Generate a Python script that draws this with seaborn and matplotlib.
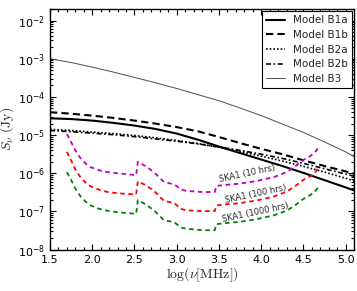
import numpy as np
import matplotlib
matplotlib.use("Agg")
import matplotlib.pyplot as plt
import seaborn as sns

# model curves, log10 of flux density (Jy) against log10(nu / MHz)
model_lognu = [1.5, 1.75, 2.0, 2.25, 2.5, 2.75, 3.0, 3.25, 3.5, 3.75, 4.0, 4.25, 4.5, 4.75, 5.0, 5.1]
b1a_logS = [-4.56, -4.58, -4.62, -4.68, -4.75, -4.84, -4.96, -5.12, -5.30, -5.47, -5.64, -5.81, -5.99, -6.18, -6.37, -6.45]
b1b_logS = [-4.40, -4.44, -4.49, -4.55, -4.62, -4.70, -4.79, -4.90, -5.05, -5.21, -5.36, -5.50, -5.66, -5.81, -5.95, -6.01]
b2a_logS = [-4.85, -4.88, -4.92, -4.96, -5.01, -5.07, -5.14, -5.22, -5.32, -5.43, -5.55, -5.68, -5.82, -5.97, -6.13, -6.20]
b2b_logS = [-4.88, -4.91, -4.95, -4.99, -5.04, -5.10, -5.16, -5.23, -5.31, -5.40, -5.50, -5.61, -5.74, -5.88, -6.02, -6.08]
b3_logS = [-3.00, -3.10, -3.22, -3.35, -3.49, -3.63, -3.78, -3.94, -4.10, -4.29, -4.49, -4.71, -4.93, -5.18, -5.44, -5.56]

# SKA1 sensitivity curves
ska_lognu = [1.70, 1.75, 1.80, 1.86, 1.92, 1.98, 2.08, 2.18, 2.30, 2.40, 2.52, 2.54, 2.63, 2.73, 2.85,
             2.97, 3.05, 3.11, 3.30, 3.45, 3.47, 3.60, 3.75, 3.95, 4.15, 4.30, 4.40, 4.50, 4.58, 4.63, 4.67]
ska10_logS = [-4.97, -5.18, -5.40, -5.60, -5.74, -5.84, -5.92, -5.97, -6.00, -6.02, -6.05, -5.70, -5.81, -5.97, -6.23,
              -6.29, -6.42, -6.46, -6.49, -6.49, -6.33, -6.30, -6.27, -6.20, -6.10, -5.97, -5.82, -5.65, -5.55, -5.47, -5.35]
ska100_logS = [-5.44, -5.66, -5.90, -6.10, -6.24, -6.34, -6.43, -6.49, -6.52, -6.54, -6.55, -6.21, -6.31, -6.46, -6.72,
               -6.78, -6.93, -6.97, -6.99, -6.99, -6.84, -6.81, -6.78, -6.71, -6.61, -6.48, -6.34, -6.17, -6.08, -6.01, -5.87]
ska1000_logS = [-5.97, -6.17, -6.40, -6.60, -6.74, -6.84, -6.93, -6.98, -7.02, -7.04, -7.06, -6.70, -6.81, -6.97, -7.23,
                -7.28, -7.42, -7.45, -7.49, -7.49, -7.33, -7.30, -7.27, -7.20, -7.10, -6.98, -6.84, -6.67, -6.57, -6.50, -6.37]

sns.set_style("ticks")
plt.rcParams["font.family"] = ["DejaVu Sans"]
plt.rcParams["mathtext.fontset"] = "dejavusans"

fig = plt.figure(figsize=(3.57, 2.91), dpi=100)
ax = fig.add_axes([0.140, 0.142, 0.852, 0.827])

def to_jy(vals):
    return [10 ** v for v in vals]

# model eğrileri
sns.lineplot(x=model_lognu, y=to_jy(b1a_logS), ax=ax, color="black", lw=1.5, label="Model B1a")
sns.lineplot(x=model_lognu, y=to_jy(b1b_logS), ax=ax, color="black", lw=1.5, linestyle=(0, (3.5, 2)), label="Model B1b")
sns.lineplot(x=model_lognu, y=to_jy(b2a_logS), ax=ax, color="black", lw=1.2, linestyle=(0, (1, 1.2)), label="Model B2a")
sns.lineplot(x=model_lognu, y=to_jy(b2b_logS), ax=ax, color="black", lw=1.2, linestyle=(0, (3, 1.5, 1, 1.5)), label="Model B2b")
sns.lineplot(x=model_lognu, y=to_jy(b3_logS), ax=ax, color="0.3", lw=0.7, label="Model B3")

# SKA1 duyarlılık eğrileri
ska_dash = (0, (2.5, 2))
sns.lineplot(x=ska_lognu, y=to_jy(ska10_logS), ax=ax, color=(0.75, 0, 0.75), lw=1.3, linestyle=ska_dash, legend=False)
sns.lineplot(x=ska_lognu, y=to_jy(ska100_logS), ax=ax, color="red", lw=1.3, linestyle=ska_dash, legend=False)
sns.lineplot(x=ska_lognu, y=to_jy(ska1000_logS), ax=ax, color="green", lw=1.3, linestyle=ska_dash, legend=False)

ax.text(3.84, 10 ** -6.02, "SKA1 (10 hrs)", fontsize=6, rotation=12, ha="center", va="center", rotation_mode="anchor")
ax.text(3.93, 10 ** -6.55, "SKA1 (100 hrs)", fontsize=6, rotation=12, ha="center", va="center", rotation_mode="anchor")
ax.text(3.93, 10 ** -7.03, "SKA1 (1000 hrs)", fontsize=6, rotation=12, ha="center", va="center", rotation_mode="anchor")

ax.set_yscale("log")
ax.set_xlim(1.5, 5.1)
ax.set_ylim(1e-8, 2e-2)
ax.set_xticks([1.5, 2.0, 2.5, 3.0, 3.5, 4.0, 4.5, 5.0])
ax.set_xticklabels(["1.5", "2.0", "2.5", "3.0", "3.5", "4.0", "4.5", "5.0"])
ax.xaxis.set_minor_locator(matplotlib.ticker.MultipleLocator(0.1))
ax.yaxis.set_major_locator(matplotlib.ticker.LogLocator(base=10, numticks=20))
ax.yaxis.set_minor_locator(matplotlib.ticker.LogLocator(base=10, subs=np.arange(2, 10), numticks=20))
ax.yaxis.set_minor_formatter(matplotlib.ticker.NullFormatter())

ax.tick_params(which="both", direction="in", top=True, right=True, labelsize=8, width=0.8, colors="black")
ax.tick_params(which="major", length=4.5)
ax.tick_params(which="minor", length=2.2)
for sp in ax.spines.values():
    sp.set_color("black")
    sp.set_linewidth(1.0)

ax.set_xlabel(r"$\log(\nu[\mathrm{MHz}])$", fontsize=10, math_fontfamily="cm", labelpad=1)
ax.set_ylabel(r"$S_{\nu}\ (\mathrm{Jy})$", fontsize=10, math_fontfamily="cm", labelpad=1)

leg = ax.legend(loc="upper right", fontsize=7.5, fancybox=False, edgecolor="black", framealpha=1,
                handlelength=1.8, borderaxespad=0.2, labelspacing=0.45)
leg.get_frame().set_linewidth(0.8)

fig.savefig("out.png", dpi=100)
